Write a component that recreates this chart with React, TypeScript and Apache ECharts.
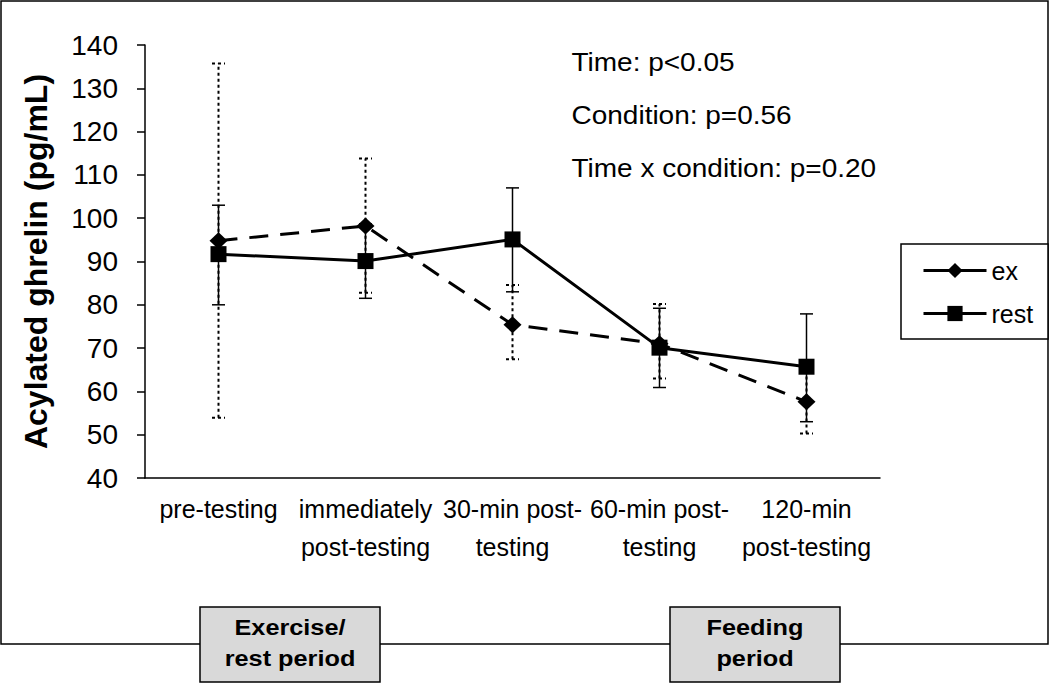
import React, { useEffect, useRef } from "react";
import * as echarts from "echarts";

const categories = [
  "pre-testing",
  "immediately\npost-testing",
  "30-min post-\ntesting",
  "60-min post-\ntesting",
  "120-min\npost-testing",
];
const exMean = [94.8, 98.2, 75.4, 71.0, 57.6];
const exLow = [53.9, 82.8, 67.4, 63.0, 50.3];
const exHigh = [135.7, 113.8, 84.6, 80.2, 64.9];
const restMean = [91.7, 90.1, 95.1, 70.1, 65.7];
const restLow = [80.0, 81.5, 83.0, 60.9, 53.0];
const restHigh = [103.0, 98.7, 107.0, 79.2, 77.9];
const yMin = 40;
const yMax = 140;
const yStep = 10;
const statLines = ["Time: p<0.05", "Condition: p=0.56", "Time x condition: p=0.20"];
const periodLabels = ["Exercise/\nrest period", "Feeding\nperiod"];
const seriesNames = ["ex", "rest"];
const yTitle = "Acylated ghrelin (pg/mL)";

const FONT = "'Liberation Sans', Arial, Helvetica, sans-serif";

function errSeries(name: string, low: number[], high: number[], dotted: boolean) {
  return {
    type: "custom",
    name,
    silent: true,
    z: 1,
    data: low.map((l, i) => [i, l, high[i]]),
    encode: { x: 0, y: [1, 2] },
    renderItem: (params: any, api: any) => {
      const x = api.value(0);
      const p1 = api.coord([x, api.value(1)]);
      const p2 = api.coord([x, api.value(2)]);
      const w = 6.5;
      const style: any = {
        stroke: "#000",
        fill: "none",
        lineWidth: dotted ? 2 : 1.5,
      };
      if (dotted) style.lineDash = [3, 3];
      return {
        type: "group",
        children: [
          { type: "line", shape: { x1: p1[0], y1: p1[1], x2: p2[0], y2: p2[1] }, style },
          { type: "line", shape: { x1: p1[0] - w, y1: p1[1], x2: p1[0] + w, y2: p1[1] }, style },
          { type: "line", shape: { x1: p2[0] - w, y1: p2[1], x2: p2[0] + w, y2: p2[1] }, style },
        ],
      };
    },
  };
}

export default function App() {
  const ref = useRef<HTMLDivElement>(null);
  useEffect(() => {
    document.body.style.margin = "0";
    const chart = echarts.init(ref.current!, null, { renderer: "svg" });
    const option: any = {
      animation: false,
      backgroundColor: "#ffffff",
      textStyle: { fontFamily: FONT, color: "#000" },
      grid: { left: 145, right: 170, top: 45, bottom: 205 },
      legend: {
        data: seriesNames,
        orient: "vertical",
        left: 922,
        top: 258,
        itemWidth: 63,
        itemHeight: 19,
        itemGap: 18,
        padding: 0,
        textStyle: { fontSize: 25, color: "#000", fontFamily: FONT, padding: [0, 0, 0, 0] },
        itemStyle: { color: "#000" },
        lineStyle: { color: "#000", width: 3, type: "solid" },
        inactiveColor: "#000",
        selectedMode: false,
      },
      xAxis: {
        type: "category",
        data: categories,
        boundaryGap: true,
        axisLine: { lineStyle: { color: "#000", width: 1.5 } },
        axisTick: { show: false },
        axisLabel: {
          interval: 0,
          fontSize: 25,
          lineHeight: 38,
          margin: 12,
          color: "#000",
          fontFamily: FONT,
        },
        splitLine: { show: false },
      },
      yAxis: {
        type: "value",
        min: yMin,
        max: yMax,
        interval: yStep,
        name: yTitle,
        nameLocation: "middle",
        nameGap: 93,
        nameTextStyle: { fontSize: 32, fontWeight: "bold", color: "#000", fontFamily: FONT },
        axisLine: { show: true, lineStyle: { color: "#000", width: 1.5 } },
        axisTick: { show: true, inside: false, length: 8, lineStyle: { color: "#000", width: 1.5 } },
        axisLabel: { fontSize: 28, margin: 27, color: "#000", fontFamily: FONT },
        splitLine: { show: false },
      },
      series: [
        errSeries("exErr", exLow, exHigh, true),
        errSeries("restErr", restLow, restHigh, false),
        {
          type: "line",
          name: seriesNames[0],
          data: exMean,
          z: 3,
          symbol: "diamond",
          symbolSize: [18, 17],
          lineStyle: { color: "#000", width: 3, type: [19, 12] },
          itemStyle: { color: "#000", borderWidth: 0 },
        },
        {
          type: "line",
          name: seriesNames[1],
          data: restMean,
          z: 4,
          symbol: "rect",
          symbolSize: 16,
          lineStyle: { color: "#000", width: 3, type: "solid" },
          itemStyle: { color: "#000", borderWidth: 0 },
        },
      ],
      graphic: [
        {
          type: "rect",
          silent: true,
          z: -10,
          shape: { x: 1, y: 1, width: 1047, height: 643 },
          style: { fill: "none", stroke: "#000", lineWidth: 1.5 },
        },
        {
          type: "rect",
          silent: true,
          shape: { x: 901, y: 244, width: 147, height: 95 },
          style: { fill: "#fff", stroke: "#000", lineWidth: 1.5 },
          z: -5,
        },
        ...statLines.map((t, i) => ({
          type: "text",
          silent: true,
          x: 571.5,
          y: 63 + i * 53,
          scaleX: 1.12,
          style: {
            text: t,
            fontSize: 25,
            fontFamily: FONT,
            fill: "#000",
            textAlign: "left",
            textVerticalAlign: "middle",
          },
        })),
        ...[
          { x: 200, w: 180 },
          { x: 670, w: 170 },
        ].map((b, i) => ({
          type: "group",
          silent: true,
          children: [
            {
              type: "rect",
              shape: { x: b.x, y: 607, width: b.w, height: 75 },
              style: { fill: "#d9d9d9", stroke: "#000", lineWidth: 1.5 },
            },
            {
              type: "text",
              x: b.x + b.w / 2,
              y: 643,
              scaleX: 1.15,
              style: {
                text: periodLabels[i],
                fontSize: 22,
                fontWeight: "bold",
                lineHeight: 31,
                fontFamily: FONT,
                fill: "#000",
                textAlign: "center",
                textVerticalAlign: "middle",
              },
            },
          ],
        })),
      ],
    };
    chart.setOption(option);
    return () => chart.dispose();
  }, []);
  return <div ref={ref} style={{ width: 1050, height: 683 }} />;
}
